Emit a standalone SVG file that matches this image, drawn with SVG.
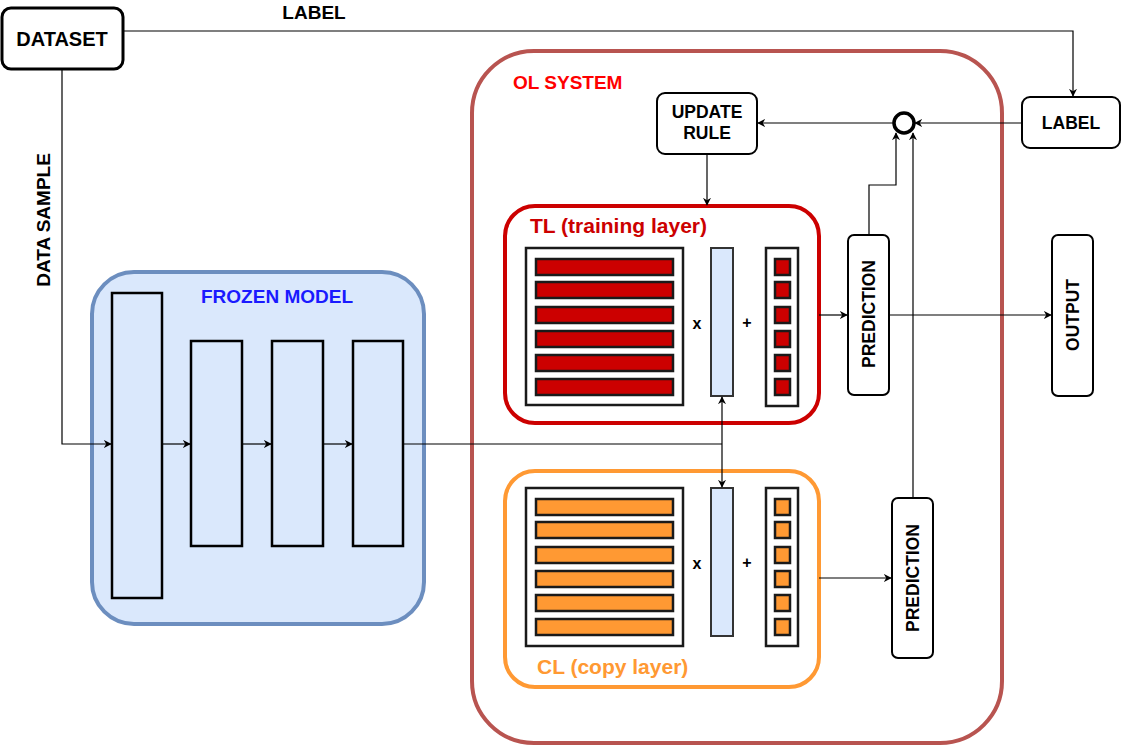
<svg xmlns="http://www.w3.org/2000/svg" width="1123" height="746" viewBox="0 0 1123 746">
<defs>
<marker id="ar" viewBox="0 0 10 10" refX="9" refY="5" markerWidth="8" markerHeight="8" markerUnits="userSpaceOnUse" orient="auto">
<path d="M0,0 L10,5 L0,10 L3,5 Z" fill="#000"/>
</marker>
<style>
text{font-family:"Liberation Sans",Arial,sans-serif;font-weight:bold}
.lbl{fill:#000;text-anchor:middle;dominant-baseline:central}
.s17{font-size:17.5px}
.s19{font-size:19px}
.s21{font-size:21px}
.box{fill:#fff;stroke:#000;stroke-width:2}
.con{fill:none;stroke:#000;stroke-width:1.2}
.mat{fill:#fff;stroke:#1a1a1a;stroke-width:2.5}
.vec{fill:#dae8fc;stroke:#333;stroke-width:2}
.rr{fill:#cc0000;stroke:#1a1a1a;stroke-width:2.5}
.ro{fill:#ff9933;stroke:#1a1a1a;stroke-width:2.5}
.blk{fill:#dae8fc;stroke:#000;stroke-width:2.5}
.op{font-size:16px;text-anchor:middle;dominant-baseline:central}
</style>
</defs>

<g id="ol-system">
<rect x="472" y="51" width="530" height="692" rx="62" fill="none" stroke="#b85450" stroke-width="4"/>
<text class="s19" x="513" y="89" fill="#ff0000">OL SYSTEM</text>
</g>

<g id="frozen-model">
<rect x="92" y="272" width="332" height="352" rx="42" fill="#dae8fc" stroke="#6c8ebf" stroke-width="4"/>
<text class="s19" x="277" y="303" fill="#1a1aff" text-anchor="middle">FROZEN MODEL</text>
<rect class="blk" x="112" y="293" width="50" height="305"/>
<rect class="blk" x="191" y="341" width="51" height="205"/>
<rect class="blk" x="272" y="341" width="51" height="205"/>
<rect class="blk" x="353" y="341" width="50" height="205"/>
</g>

<g id="dataset">
<rect x="2" y="8" width="121" height="61" rx="9" fill="#fff" stroke="#000" stroke-width="3"/>
<text class="lbl" x="62" y="39" style="font-size:20px">DATASET</text>
</g>

<g id="update-rule">
<rect class="box" x="657" y="93" width="100" height="61" rx="8"/>
<text class="lbl s17" x="707" y="112">UPDATE</text>
<text class="lbl s17" x="707" y="133">RULE</text>
</g>

<g id="comparator">
<circle cx="904" cy="123" r="10" fill="#fff" stroke="#000" stroke-width="3.5"/>
</g>

<g id="label">
<rect class="box" x="1022" y="97" width="98" height="51" rx="8"/>
<text class="lbl s17" x="1071" y="123">LABEL</text>
</g>

<g id="tl">
<rect x="505" y="206" width="314" height="217" rx="30" fill="#fff" stroke="#cc0000" stroke-width="4"/>
<text class="s21" x="530" y="233" fill="#cc0000">TL (training layer)</text>
<rect class="mat" x="526" y="248" width="157" height="157"/>
<rect class="rr" x="536" y="259" width="137" height="16"/>
<rect class="rr" x="536" y="282" width="137" height="16"/>
<rect class="rr" x="536" y="307" width="137" height="16"/>
<rect class="rr" x="536" y="331" width="137" height="16"/>
<rect class="rr" x="536" y="355" width="137" height="16"/>
<rect class="rr" x="536" y="379" width="137" height="16"/>
<text class="op" x="697" y="323">x</text>
<rect class="vec" x="711" y="248" width="22" height="148"/>
<text class="op" x="747" y="322">+</text>
<rect class="mat" x="766" y="248" width="32" height="158"/>
<rect class="rr" x="775" y="259" width="15" height="16"/>
<rect class="rr" x="775" y="282" width="15" height="16"/>
<rect class="rr" x="775" y="307" width="15" height="16"/>
<rect class="rr" x="775" y="331" width="15" height="16"/>
<rect class="rr" x="775" y="355" width="15" height="16"/>
<rect class="rr" x="775" y="379" width="15" height="16"/>
</g>

<g id="cl">
<rect x="505" y="471" width="314" height="216" rx="30" fill="#fff" stroke="#ff9933" stroke-width="4"/>
<text class="s21" x="537" y="674" fill="#ff9933">CL (copy layer)</text>
<rect class="mat" x="526" y="488" width="157" height="158"/>
<rect class="ro" x="536" y="499" width="137" height="16"/>
<rect class="ro" x="536" y="522" width="137" height="16"/>
<rect class="ro" x="536" y="547" width="137" height="16"/>
<rect class="ro" x="536" y="571" width="137" height="16"/>
<rect class="ro" x="536" y="595" width="137" height="16"/>
<rect class="ro" x="536" y="619" width="137" height="16"/>
<text class="op" x="697" y="563">x</text>
<rect class="vec" x="711" y="488" width="22" height="148"/>
<text class="op" x="747" y="562">+</text>
<rect class="mat" x="766" y="488" width="32" height="158"/>
<rect class="ro" x="775" y="499" width="15" height="16"/>
<rect class="ro" x="775" y="522" width="15" height="16"/>
<rect class="ro" x="775" y="547" width="15" height="16"/>
<rect class="ro" x="775" y="571" width="15" height="16"/>
<rect class="ro" x="775" y="595" width="15" height="16"/>
<rect class="ro" x="775" y="619" width="15" height="16"/>
</g>

<g id="prediction-tl">
<rect class="box" x="848" y="235" width="41" height="160" rx="6"/>
<text class="lbl s17" transform="translate(868.5,314) rotate(-90)">PREDICTION</text>
</g>

<g id="prediction-cl">
<rect class="box" x="892" y="498" width="41" height="160" rx="6"/>
<text class="lbl s17" transform="translate(912.5,578) rotate(-90)">PREDICTION</text>
</g>

<g id="output">
<rect class="box" x="1052" y="235" width="41" height="161" rx="6"/>
<text class="lbl s17" transform="translate(1072.5,315) rotate(-90)">OUTPUT</text>
</g>

<g id="connectors">
<path class="con" d="M123,31 H1073 V96" marker-end="url(#ar)"/>
<text class="s19" x="314" y="19" text-anchor="middle">LABEL</text>
<path class="con" d="M62,69 V444 H111" marker-end="url(#ar)"/>
<text class="lbl s19" transform="translate(43,220) rotate(-90)">DATA SAMPLE</text>
<path class="con" d="M162,444 H190" marker-end="url(#ar)"/>
<path class="con" d="M242,444 H271" marker-end="url(#ar)"/>
<path class="con" d="M323,444 H352" marker-end="url(#ar)"/>
<path class="con" d="M403,444 H722"/>
<path class="con" d="M722,444 V397" marker-end="url(#ar)"/>
<path class="con" d="M722,444 V487" marker-end="url(#ar)"/>
<path class="con" d="M1022,123 H915" marker-end="url(#ar)"/>
<path class="con" d="M893,123 H758" marker-end="url(#ar)"/>
<path class="con" d="M707,154 V205" marker-end="url(#ar)"/>
<path class="con" d="M819,315 H847" marker-end="url(#ar)"/>
<path class="con" d="M889,315 H1051" marker-end="url(#ar)"/>
<path class="con" d="M869,235 V185 H896 V133" marker-end="url(#ar)"/>
<path class="con" d="M913,498 V133" marker-end="url(#ar)"/>
<path class="con" d="M819,578 H891" marker-end="url(#ar)"/>
</g>
</svg>
